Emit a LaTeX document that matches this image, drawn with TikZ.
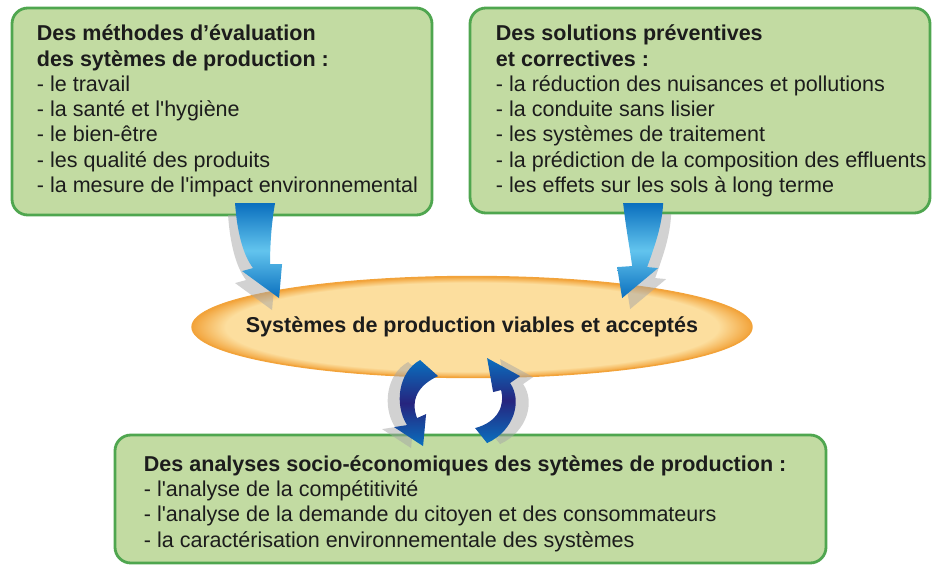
\documentclass[tikz,border=0pt]{standalone}
\usepackage{fontspec}
\setmainfont{Liberation Sans}[Ligatures=TeXOff]
\usepackage{xcolor}
\usetikzlibrary{positioning,shapes.geometric}
\definecolor{boxfill}{HTML}{C2DBA2}
\definecolor{boxrim}{HTML}{4FA64F}
\definecolor{ellfill}{HTML}{FCDE9E}
\definecolor{ellrim}{HTML}{F2A33A}
\definecolor{arrblue}{HTML}{0A6FBE}
\definecolor{arrlight}{HTML}{62C4EE}
\definecolor{arrnavy}{HTML}{26247E}
\definecolor{ink}{HTML}{1C1C1C}
\pgfdeclareradialshading{ellglow}{\pgfpoint{0bp}{0bp}}{color(0bp)=(ellfill); color(22bp)=(ellfill); color(25bp)=(ellrim); color(50bp)=(ellrim)}
\newcommand{\diagfont}{\fontsize{12.25}{14.4}\selectfont}
% arrow outlines, in pixel units
\newcommand{\leftbig}{(235,203) .. controls (237,232) and (243,255) .. (253,268) -- (242,271) -- (279,298) -- (282,264) -- (270,264) .. controls (270,240) and (272,220) .. (275,203) -- cycle}
\newcommand{\rightbig}{(623,203) .. controls (626,230) and (630,250) .. (632,266) -- (617,267) -- (622,298) -- (658,268) -- (647,267) .. controls (655,245) and (662,225) .. (663,203) -- cycle}
\newcommand{\leftturn}{(420,360) .. controls (398,372) and (394,405) .. (407,425) -- (394,427) -- (423,446) -- (426,414) -- (417,418) .. controls (410,400) and (418,385) .. (438,376) -- cycle}
\newcommand{\rightturn}{(487,443) .. controls (515,430) and (522,400) .. (510,383) -- (520,376) -- (487,358) -- (493,392) -- (501,390) .. controls (505,405) and (498,422) .. (475,428) -- cycle}

\begin{document}
\begin{tikzpicture}[
  font=\diagfont, text=ink,
  box/.style={draw=boxrim,line width=1.6pt,fill=boxfill,rounded corners=9pt},
  txt/.style={align=left,inner sep=0pt},
  ell/.style={ellipse,draw=ellrim,line width=0.8pt,shading=ellglow,minimum width=11.2cm,minimum height=2.02cm},
  bigarr/.style={top color=arrblue,bottom color=arrblue,middle color=arrlight},
  turnarr/.style={top color=arrblue,bottom color=arrblue,middle color=arrnavy},
  ghost/.style={fill=black!35,opacity=0.5}
]
\useasboundingbox (0,0) rectangle (18.68,-11.28);

% top boxes
\node[box,minimum width=8.4cm,minimum height=4.14cm] (meth) at (4.44,-2.23) {};
\node[txt,below right=0.36cm and 0.52cm of meth.north west] (methtxt)
  {\textbf{Des méthodes d’évaluation}\\\textbf{des sytèmes de production :}\\- le travail\\- la santé et l'hygiène\\- le bien-être\\- les qualité des produits\\- la mesure de l'impact environnemental};
\node[box,minimum width=9.2cm,minimum height=4.1cm] (sol) at (14.0,-2.21) {};
\node[txt,below right=0.36cm and 0.54cm of sol.north west] (soltxt)
  {\textbf{Des solutions préventives}\\\textbf{et correctives :}\\- la réduction des nuisances et pollutions\\- la conduite sans lisier\\- les systèmes de traitement\\- la prédiction de la composition des effluents\\- les effets sur les sols à long terme};

% bottom box
\node[box,minimum width=14.22cm,minimum height=2.56cm] (socio) at (9.41,-9.98) {};
\node[txt,below right=0.43cm and 0.6cm of socio.north west] (sociotxt)
  {\textbf{Des analyses socio-économiques des sytèmes de production :}\\- l'analyse de la compétitivité\\- l'analyse de la demande du citoyen et des consommateurs\\- la caractérisation environnementale des systèmes};

% centre
\node[ell,label={[font=\diagfont\bfseries]center:Systèmes de production viables et acceptés}] (goal) at (9.44,-6.54) {};

% arrows
\begin{scope}[x=0.02cm,y=-0.02cm]
\path[ghost,shift={(-7,12)}] \leftbig;
\path[ghost,shift={(8,11)}] \rightbig;
\path[ghost,shift={(-12,2)}] \leftturn;
\path[ghost,shift={(13,1)}] \rightturn;
\path[bigarr] \leftbig;
\path[bigarr] \rightbig;
\path[turnarr] \leftturn;
\path[turnarr] \rightturn;
\end{scope}
\end{tikzpicture}
\end{document}
